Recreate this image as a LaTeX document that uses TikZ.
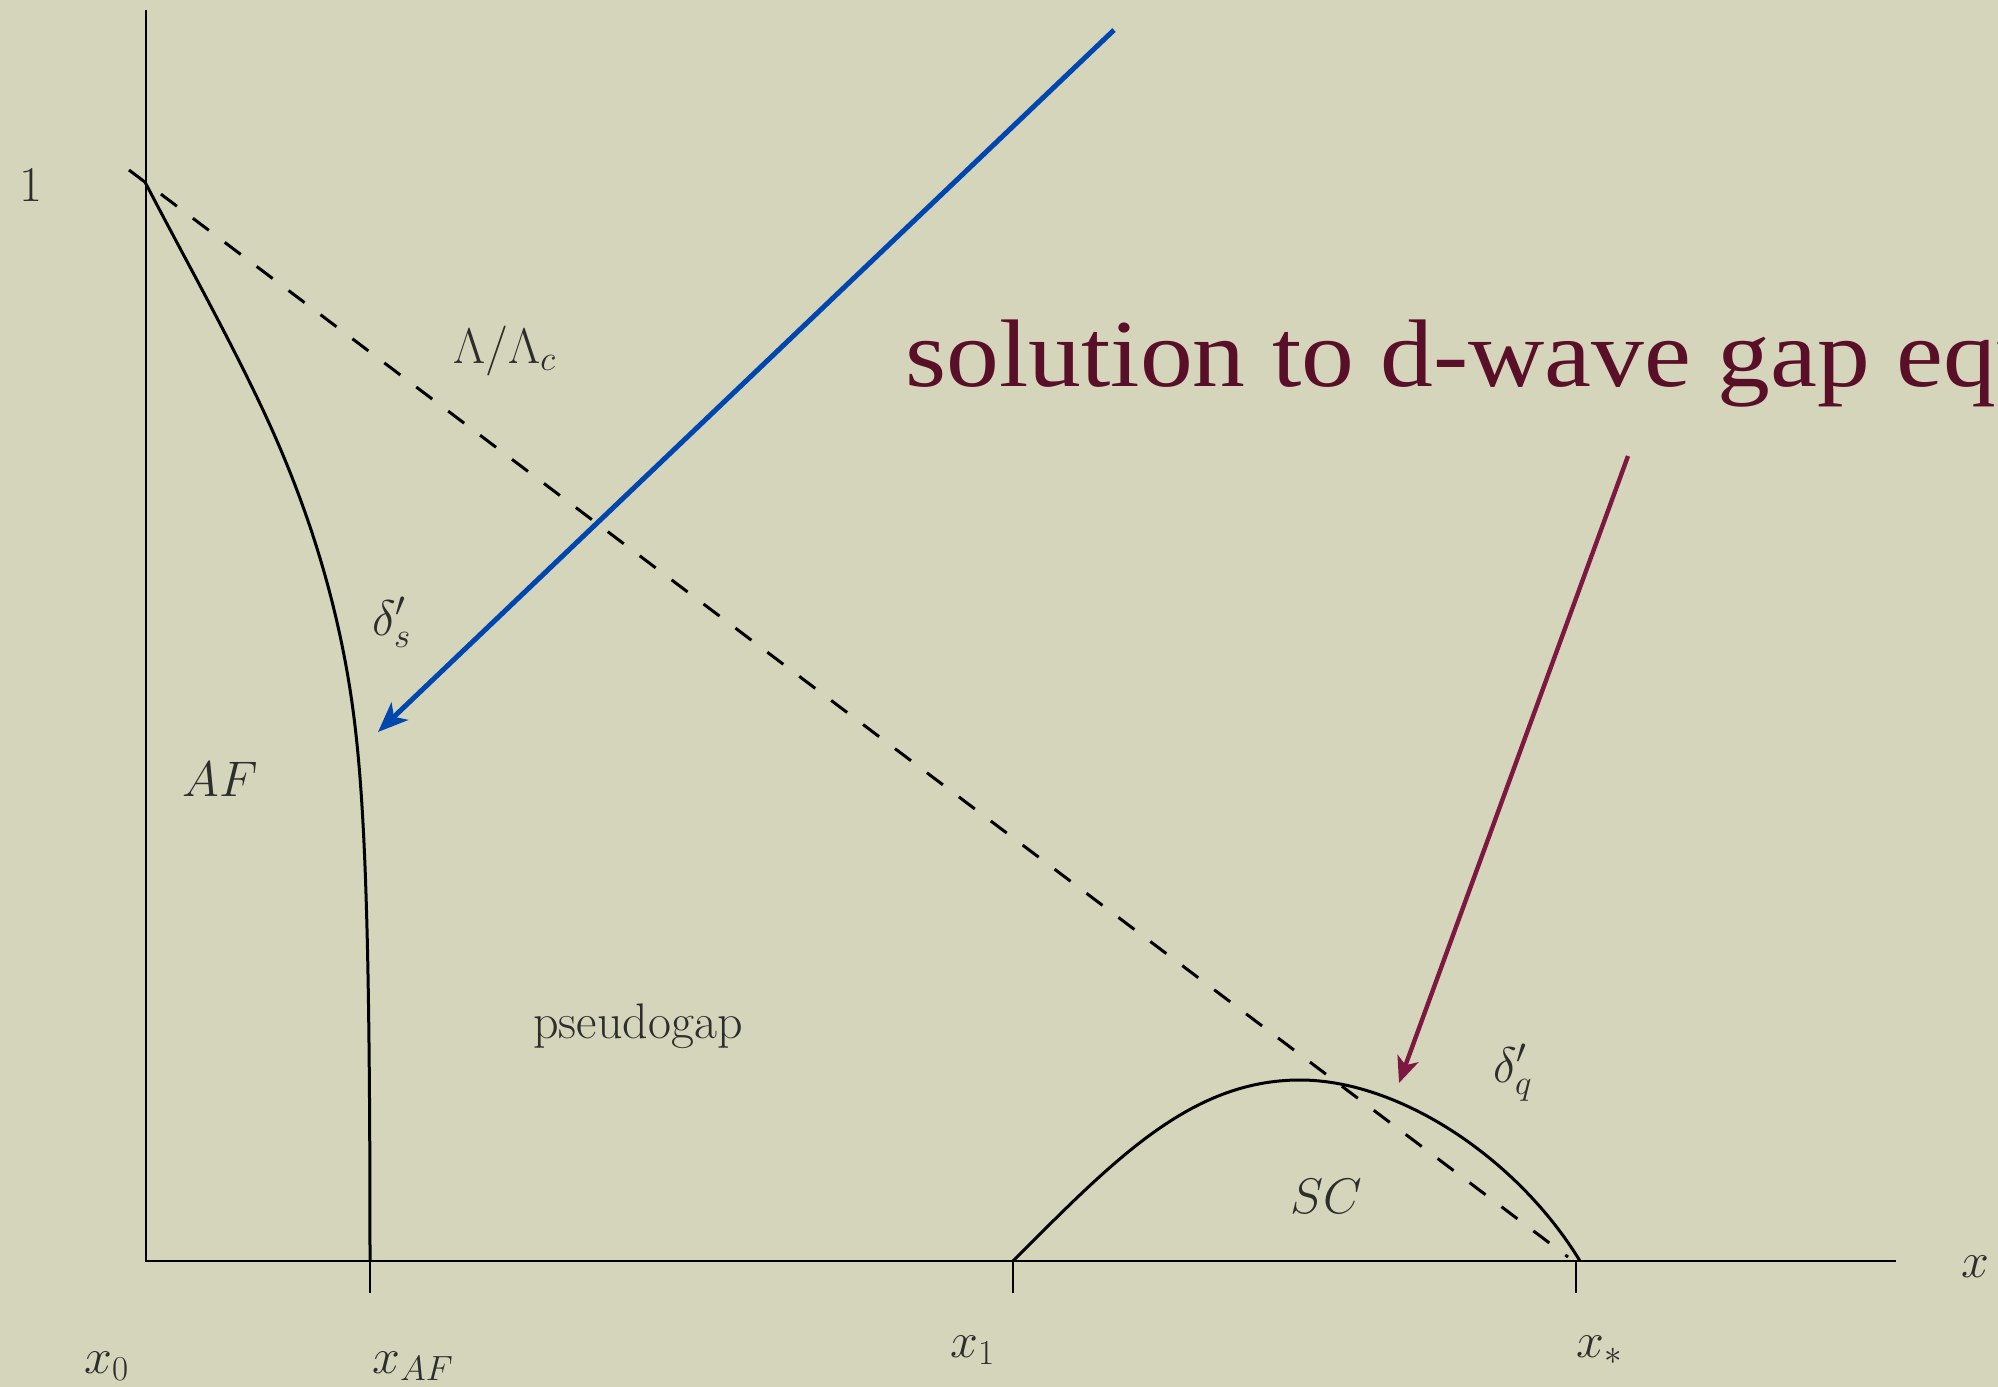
\documentclass[tikz,border=0pt]{standalone}
\usepackage{fix-cm}
\usepackage{fontspec}
\newfontfamily\bigserif{Liberation Serif}
\usetikzlibrary{arrows.meta}
\definecolor{bg}{RGB}{213,213,187}
\definecolor{bluearr}{RGB}{0,70,175}
\definecolor{maroonarr}{RGB}{125,25,65}
\definecolor{titlecol}{RGB}{90,15,40}
\definecolor{labelcol}{RGB}{45,45,45}
\begin{document}
\begin{tikzpicture}[x=0.5pt,y=-0.5pt,
  lbl/.style={text=labelcol,font=\fontsize{25}{29}\selectfont,inner sep=0pt,anchor=base west},
  axisline/.style={line width=0.9pt,black},
  curve/.style={line width=1.5pt,black},
  bound/.style={line width=1.5pt,black,dash pattern=on 10pt off 10pt},
  bluearrow/.style={line width=2.5pt,bluearr,-{Stealth[length=15pt,width=12pt,inset=4pt]}},
  maroonarrow/.style={line width=2.2pt,maroonarr,-{Stealth[length=13pt,width=11pt,inset=3.5pt]}}]
\fill[bg] (0,0) rectangle (1998,1387);
\useasboundingbox (0,0) rectangle (1998,1387);
\clip (0,0) rectangle (1998,1387);
% axes
\coordinate (ytop) at (146,10);
\coordinate (orig) at (146,1261);
\coordinate (xend) at (1896,1261);
\draw[axisline] (ytop) -- (orig) -- (xend);
% ticks
\coordinate (tAF) at (370,1261); \coordinate (tAFb) at (370,1293);
\coordinate (t1) at (1013,1261); \coordinate (t1b) at (1013,1293);
\coordinate (ts) at (1576,1261); \coordinate (tsb) at (1576,1293);
\draw[axisline] (tAF) -- (tAFb);
\draw[axisline] (t1) -- (t1b);
\draw[axisline] (ts) -- (tsb);
% dashed Lambda/Lambda_c line
\coordinate (dstart) at (129,170);
\coordinate (dend) at (1568,1257);
\draw[bound] (dstart) -- (dend);
% AF boundary
\coordinate (afTop) at (145,182);
\coordinate (afA) at (263,410);
\coordinate (afB) at (343,650);
\draw[curve] (afTop) .. controls (184.5,258) and (227.3,334) .. (afA)
             .. controls (300.6,490) and (327,570) .. (afB)
             .. controls (363,750) and (370,861) .. (tAF);
% SC dome
\coordinate (scTop) at (1300,1080);
\coordinate (scR) at (1580,1261);
\draw[curve] (t1) .. controls (1113,1161) and (1190,1080) .. (scTop)
             .. controls (1400,1080) and (1518,1159) .. (scR);
% labels
\node[lbl] (one) at (19,201) {1};
\node[lbl] (lam) at (453,363) {$\Lambda/\Lambda_c$};
\node[lbl] (ds) at (372,635) {$\delta'_s$};
\node[lbl] (af) at (182,796) {$AF$};
\node[lbl] (pg) at (533,1038) {pseudogap};
\node[lbl] (dq) at (1493,1082) {$\delta'_q$};
\node[lbl] (sc) at (1290,1213) {$SC$};
\node[lbl] (xl) at (1961,1277) {$x$};
\node[lbl] (x0) at (84,1373) {$x_0$};
\node[lbl] (xaf) at (372,1373) {$x_{AF}$};
\node[lbl] (x1) at (950,1357) {$x_1$};
\node[lbl] (xs) at (1576,1357) {$x_*$};
% title
\node[anchor=base west,inner sep=0pt,xscale=1.1,text=titlecol,font=\bigserif\fontsize{48}{56}\selectfont] (title) at (905,386) {solution to d-wave gap equation};
% arrows
\coordinate (bs) at (1114,30);
\coordinate (bt) at (378,732);
\draw[bluearrow] (bs) -- (bt);
\coordinate (ms) at (1628,456);
\coordinate (mt) at (1399,1083);
\draw[maroonarrow] (ms) -- (mt);
\end{tikzpicture}
\end{document}
